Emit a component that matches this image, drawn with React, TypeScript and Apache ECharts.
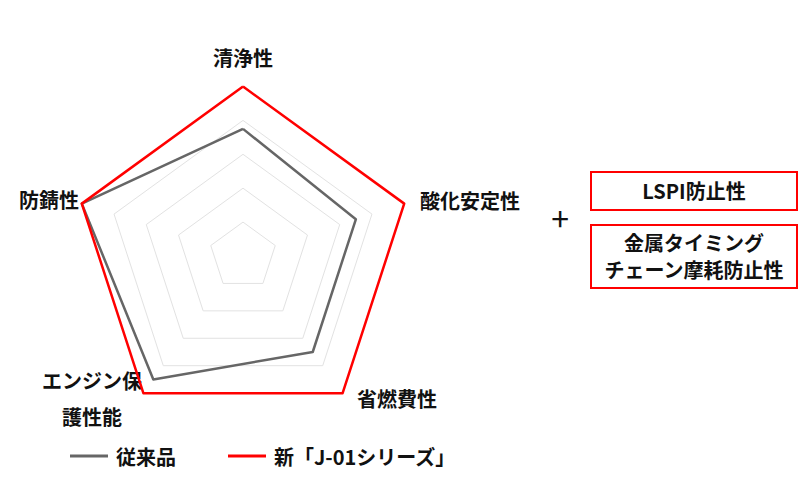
import React, { useEffect, useRef } from "react";
import * as echarts from "echarts";

const indicators = ["清浄性", "防錆性", "エンジン保護性能", "省燃費性", "酸化安定性"];
const seriesNames = ["従来品", "新「J-01シリーズ」"];
const conventional = [3.75, 5, 4.5, 3.5, 3.5];
const newSeries = [5, 5, 5, 5, 5];
const maxValue = 5;
const extraFeatures = ["LSPI防止性", "金属タイミング\nチェーン摩耗防止性"];

const FONT = '"Noto Sans CJK JP", "Noto Sans", sans-serif';

export default function App() {
  const ref = useRef<HTMLDivElement>(null);
  useEffect(() => {
    if (!ref.current) return;
    const chart = echarts.init(ref.current, undefined, { renderer: "svg" });
    const labelStyle = { fontSize: 20, fontWeight: "bold", fontFamily: FONT, fill: "#111" };
    chart.setOption({
      animation: false,
      backgroundColor: "#fff",
      legend: {
        data: seriesNames,
        left: 65,
        top: 441,
        itemWidth: 38,
        itemHeight: 3,
        itemGap: 52,
        icon: "rect",
        textStyle: { fontSize: 20, fontWeight: "bold", fontFamily: FONT, color: "#111", padding: [0, 0, 0, 3] },
      },
      radar: {
        center: [243, 256],
        radius: 169.5,
        startAngle: 90,
        shape: "polygon",
        splitNumber: 5,
        indicator: indicators.map((n) => ({ name: n, min: 0, max: maxValue })),
        axisName: { show: false },
        axisLine: { show: false },
        axisTick: { show: false },
        splitArea: { show: false },
        splitLine: { lineStyle: { color: "#e2e2e2", width: 1 } },
      },
      series: [
        {
          type: "radar",
          symbol: "none",
          data: [
            { name: seriesNames[0], value: conventional, lineStyle: { color: "#666666", width: 2.5 }, itemStyle: { color: "#666666" } },
            { name: seriesNames[1], value: newSeries, lineStyle: { color: "#ff0000", width: 2.5 }, itemStyle: { color: "#ff0000" } },
          ],
        },
      ],
      graphic: [
        { type: "text", x: 243, y: 57, style: { ...labelStyle, text: indicators[0], align: "center", verticalAlign: "middle" } },
        { type: "text", x: 420, y: 200, style: { ...labelStyle, text: indicators[4], align: "left", verticalAlign: "middle" } },
        { type: "text", x: 79, y: 199, style: { ...labelStyle, text: indicators[1], align: "right", verticalAlign: "middle" } },
        { type: "text", x: 357, y: 398, style: { ...labelStyle, text: indicators[3], align: "left", verticalAlign: "middle" } },
        { type: "text", x: 92, y: 380, style: { ...labelStyle, text: "エンジン保", align: "center", verticalAlign: "middle" } },
        { type: "text", x: 92, y: 416, style: { ...labelStyle, text: "護性能", align: "center", verticalAlign: "middle" } },
        { type: "text", x: 560, y: 217, style: { text: "+", fontSize: 32, fontFamily: FONT, fill: "#111", align: "center", verticalAlign: "middle" } },
        { type: "rect", shape: { x: 591, y: 172, width: 206, height: 38 }, style: { fill: "#fff", stroke: "#ff0000", lineWidth: 2 } },
        { type: "text", x: 694, y: 190, style: { ...labelStyle, text: extraFeatures[0], align: "center", verticalAlign: "middle" } },
        { type: "rect", shape: { x: 591, y: 225, width: 206, height: 63 }, style: { fill: "#fff", stroke: "#ff0000", lineWidth: 2 } },
        { type: "text", x: 694, y: 256, style: { ...labelStyle, text: extraFeatures[1], align: "center", verticalAlign: "middle", lineHeight: 27 } },
      ],
    });
    return () => chart.dispose();
  }, []);
  return <div ref={ref} style={{ position: "absolute", left: 0, top: 0, width: 800, height: 500 }} />;
}
